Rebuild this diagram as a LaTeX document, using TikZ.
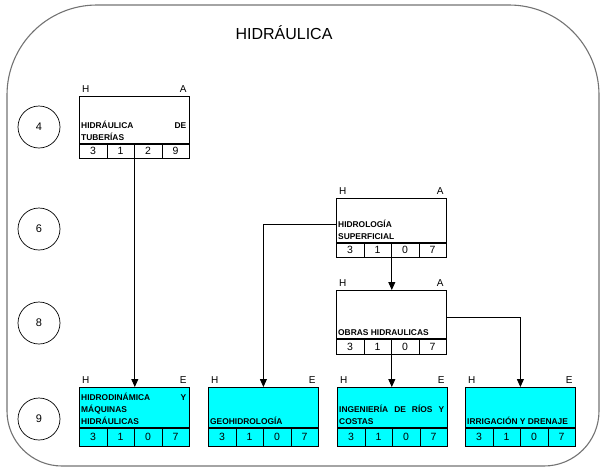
\documentclass[tikz,border=0pt]{standalone}
\usepackage{fontspec}
\setmainfont{Liberation Sans}
\usetikzlibrary{arrows.meta}
\definecolor{aqua}{HTML}{00FFFF}
\newcommand\cbox[9]{%
  % #1 name, #2 x, #3 y, #4 upper h, #5 row h, #6 fill, #7 right label, #8 text, #9 digits
  \node[upper, fill=#6, minimum height=#4pt, anchor=north west] (#1) at (#2,#3) {};
  \node[clabel, anchor=base west] (#1-h) at ([xshift=3pt,yshift=4pt]#1.north west) {H};
  \node[clabel, anchor=base east] (#1-a) at ([xshift=-3pt,yshift=4pt]#1.north east) {#7};
  \node[btext, anchor=south west] (#1-t) at ([xshift=2pt,yshift=3.5pt]#1.south west)
    {\parbox[b]{105pt}{\hyphenpenalty=10000\exhyphenpenalty=10000\tolerance=10000\emergencystretch=60pt #8}};
  \foreach \d [count=\i, evaluate=\i as \dx using 27.5*(\i-1)] in {#9} {
    \node[cell, fill=#6, minimum height=#5pt, anchor=north west] (#1-\i)
      at ([xshift=\dx pt]#1.south west) {\d};
  }
}
\begin{document}
\begin{tikzpicture}[x=1pt,y=-1pt,
  frame/.style={draw=black!55, line width=1.1pt},
  lvl/.style={draw, circle, minimum size=42pt, inner sep=0pt, line width=0.7pt, font=\fontsize{11}{12}\selectfont},
  upper/.style={draw, line width=0.8pt, minimum width=110pt, inner sep=0pt},
  cell/.style={draw, line width=0.8pt, minimum width=27.5pt, inner sep=0pt, font=\fontsize{10.5}{11}\selectfont},
  clabel/.style={inner sep=0pt, font=\fontsize{10}{11}\selectfont},
  btext/.style={inner sep=0pt, font=\fontsize{8.4}{12}\selectfont\bfseries},
  conn/.style={draw, line width=0.8pt},
  arr/.style={conn, -{Triangle[width=7pt,length=8pt]}}
]
\useasboundingbox (0,0) rectangle (602,469);
% outer frame
\draw[frame] (7,300) [rounded corners=90pt] |- (300,5) -| (599,300)
  [rounded corners=55pt] |- (300,466) -| (7,300) -- cycle;
\node[font=\fontsize{16}{18}\selectfont] (title) at (284,33) {HIDRÁULICA};
% level circles
\node[lvl] (l4) at (39,127) {4};
\node[lvl] (l6) at (39,229) {6};
\node[lvl] (l8) at (39,323) {8};
\node[lvl] (l9) at (39,419) {9};
% boxes
\cbox{b1}{79}{96}{47}{14}{white}{A}{HIDRÁULICA DE\linebreak TUBERÍAS}{3,1,2,9}
\cbox{b2}{336}{198}{44}{14}{white}{A}{HIDROLOGÍA\\ SUPERFICIAL}{3,1,0,7}
\cbox{b3}{336}{290}{48}{15}{white}{A}{OBRAS HIDRAULICAS}{3,1,0,7}
\cbox{bA}{79}{387}{40}{18}{aqua}{E}{HIDRODINÁMICA Y\linebreak MÁQUINAS\\ HIDRÁULICAS}{3,1,0,7}
\cbox{bB}{208}{387}{40}{18}{aqua}{E}{GEOHIDROLOGÍA}{3,1,0,7}
\cbox{bC}{337}{387}{40}{18}{aqua}{E}{INGENIERÍA DE RÍOS Y\linebreak COSTAS}{3,1,0,7}
\cbox{bD}{465}{387}{40}{18}{aqua}{E}{IRRIGACIÓN Y DRENAJE}{3,1,0,7}
% connectors
\draw[arr] (b1-2.south east) -- (b1-2.south east |- bA.north);
\draw[arr] (b2-2.south east) -- (b2-2.south east |- b3.north);
\draw[arr] (b3-2.south east) -- (b3-2.south east |- bC.north);
\draw[arr] ([yshift=-4pt]b2.west) -| (bB.north);
\draw[arr] ([yshift=-3pt]b3.east) -| (bD.north);
\end{tikzpicture}
\end{document}
